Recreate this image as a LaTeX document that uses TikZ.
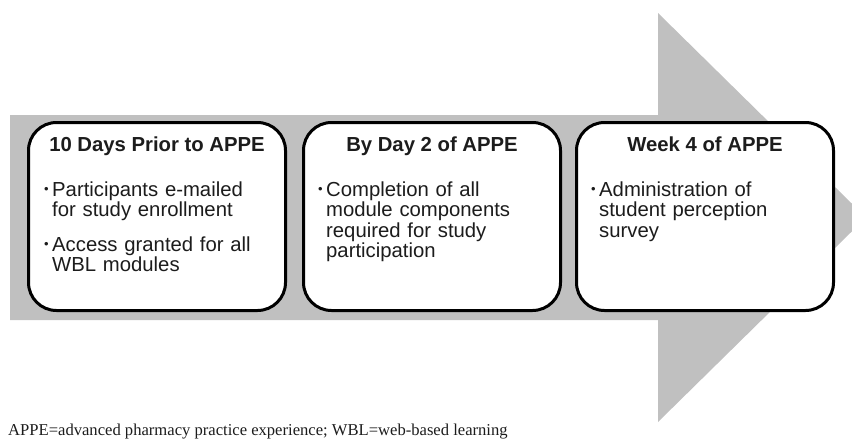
\documentclass[tikz,border=0pt]{standalone}
\usepackage{fontspec}
\setmainfont{Liberation Sans}
\newfontfamily\capfont{Liberation Serif}
\definecolor{arrowgray}{RGB}{192,192,192}
\definecolor{ink}{RGB}{28,28,28}
\newcommand\stagebullet{\makebox[8pt][l]{\raisebox{3pt}{\fontsize{13}{13}\selectfont\textbullet}}}
\begin{document}
\begin{tikzpicture}[x=1pt,y=-1pt,
  stage/.style={draw=black, line width=3pt, fill=white, rounded corners=28pt,
    minimum width=257pt, minimum height=188pt, inner sep=0pt},
  stagetitle/.style={anchor=base, font=\fontsize{20.3}{20.3}\selectfont\bfseries, text=ink, inner sep=0pt},
  items/.style={anchor=base west, text width=250pt, align=left,
    font=\fontsize{20.3}{20.5}\selectfont, text=ink, inner sep=0pt}]
\useasboundingbox (0,0) rectangle (852,440);
\clip (0,0) rectangle (852,440);
\fill[arrowgray] (10,115) -- (658,115) -- (658,13) -- (866,217.5) -- (658,422) -- (658,320) -- (10,320) -- cycle;
\node[stage] (b1) at (157,216.5) {};
\node[stage] (b2) at (432,216.5) {};
\node[stage] (b3) at (705,216.5) {};
\node[stagetitle] (t1) at ([yshift=-30.5pt]b1.north) {10 Days Prior to APPE};
\node[stagetitle] (t2) at ([yshift=-30.5pt]b2.north) {By Day 2 of APPE};
\node[stagetitle] (t3) at ([yshift=-30.5pt]b3.north) {Week 4 of APPE};
\node[items] (d1) at ([xshift=17pt,yshift=-75pt]b1.north west) {%
\hangindent=8pt\hangafter=1\stagebullet Participants e-mailed\newline for study enrollment\par\vspace{14pt}
\hangindent=8pt\hangafter=1\stagebullet Access granted for all\newline WBL modules\par};
\node[items] (d2) at ([xshift=16pt,yshift=-75pt]b2.north west) {%
\hangindent=8pt\hangafter=1\stagebullet Completion of all\newline module components\newline required for study\newline participation\par};
\node[items] (d3) at ([xshift=16pt,yshift=-75pt]b3.north west) {%
\hangindent=8pt\hangafter=1\stagebullet Administration of\newline student perception\newline survey\par};
\node[anchor=base west, font=\capfont\fontsize{16.6}{16.6}\selectfont, text=ink, inner sep=0pt] (cap) at (8,435)
  {APPE=advanced pharmacy practice experience; WBL=web-based learning};
\end{tikzpicture}
\end{document}
